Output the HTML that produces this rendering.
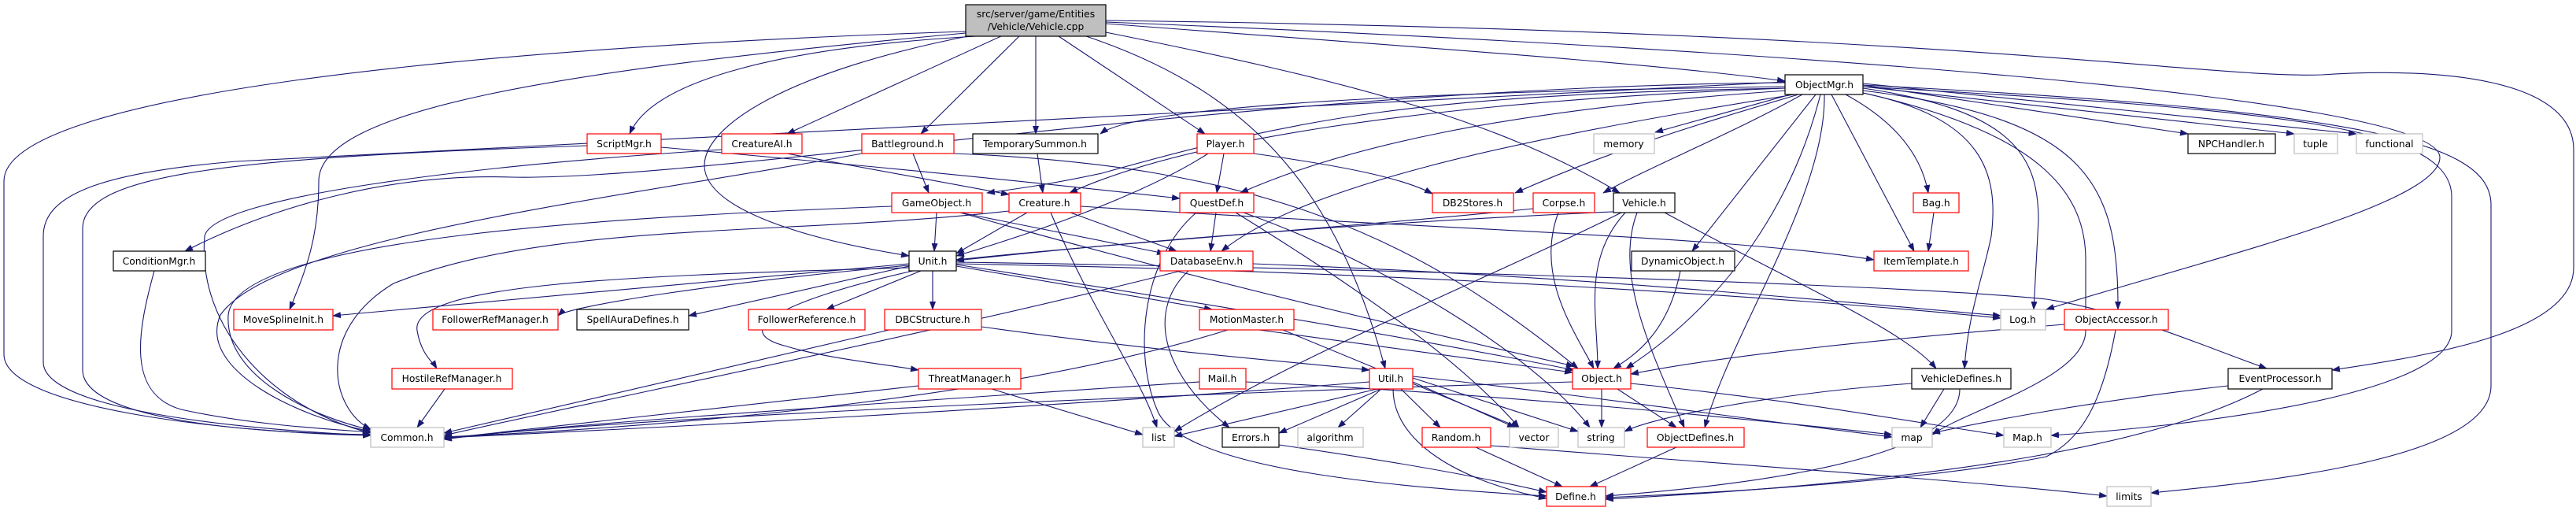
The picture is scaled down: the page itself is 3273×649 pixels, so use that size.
<!DOCTYPE html>
<html><head><meta charset="utf-8"><style>
html,body{margin:0;padding:0;background:#fff;}
svg{display:block}
text{font-family:"DejaVu Sans","Liberation Sans",sans-serif;font-size:12.3px;fill:#000;text-anchor:middle}
.e{fill:none;stroke:#191970;stroke-width:1.1;marker-end:url(#a)}
.r{fill:#fff;stroke:#ff0000;stroke-width:1.2}
.b{fill:#fff;stroke:#000;stroke-width:1.2}
.g{fill:#fff;stroke:#bfbfbf;stroke-width:1.2}
</style></head><body>
<svg width="3273" height="649" viewBox="0 0 3273 649" xmlns="http://www.w3.org/2000/svg">
<defs><marker id="a" markerWidth="11" markerHeight="8" refX="10" refY="4" orient="auto" markerUnits="userSpaceOnUse"><path d="M0,0 L11,4 L0,8 z" fill="#191970"/></marker></defs>
<g>
<!-- from Vehicle.cpp -->
<path class="e" d="M1227,40 C600,60 5,120 5,230 L5,450 C5,520 300,550 471,553"/>
<path class="e" d="M1227,42 C700,90 405,140 405,230 C405,300 390,340 368,393"/>
<path class="e" d="M1240,46 C1000,60 830,100 800,170"/>
<path class="e" d="M1272,46 L1000,170"/>
<path class="e" d="M1295,46 L1170,170"/>
<path class="e" d="M1316,46 L1316,170"/>
<path class="e" d="M1345,46 L1531,170"/>
<path class="e" d="M1240,44 C1000,90 895,160 895,210 C895,260 1000,300 1155,325"/>
<path class="e" d="M1380,46 C1600,120 1700,250 1760,468"/>
<path class="e" d="M1400,40 C1700,100 1900,150 2058,245"/>
<path class="e" d="M1405,30 C1800,60 2100,80 2268,103"/>
<path class="e" d="M1405,28 C2200,60 3100,120 3100,200 C3100,260 2800,330 2600,393"/>
<path class="e" d="M1405,26 C2500,40 2800,100 2950,95 C3100,85 3270,100 3270,190 L3270,340 C3270,420 3100,450 2963,470"/>
<!-- from ObjectMgr -->
<path class="e" d="M2268,110 C1900,115 1450,130 1398,170"/>
<path class="e" d="M2268,112 C1800,130 1500,180 1359,245"/>
<path class="e" d="M2268,112 C1800,120 1650,150 1400,220 C1330,235 1290,240 1254,245"/>
<path class="e" d="M2270,115 C1900,140 1700,190 1576,245"/>
<path class="e" d="M2280,120 C1900,180 1650,240 1552,319"/>
<path class="e" d="M2285,120 C2150,160 2050,190 1925,245"/>
<path class="e" d="M2275,120 L2103,168"/>
<path class="e" d="M2290,120 C2200,170 2100,210 2037,245"/>
<path class="e" d="M2307,120 L2150,319"/>
<path class="e" d="M2313,120 C2280,250 2200,380 2066,468"/>
<path class="e" d="M2318,120 C2320,250 2200,420 2166,543"/>
<path class="e" d="M2327,120 L2432,319"/>
<path class="e" d="M2345,120 C2400,150 2440,190 2450,245"/>
<path class="e" d="M2367,108 L2780,170"/>
<path class="e" d="M2367,110 L2915,170"/>
<path class="e" d="M2367,106 L2994,170"/>
<path class="e" d="M2367,112 C2560,140 2590,200 2590,280 L2584,393"/>
<path class="e" d="M2367,115 C2650,150 2692,230 2691,393"/>
<path class="e" d="M2367,118 C2520,150 2540,220 2530,300 C2520,350 2500,400 2496,468"/>
<path class="e" d="M2367,118 C2600,170 2650,250 2650,330 L2650,420 C2650,480 2500,520 2455,552"/>
<path class="e" d="M2367,110 C2900,140 3115,160 3115,250 L3115,420 C3115,500 2800,540 2606,553"/>
<path class="e" d="M2367,108 C3000,140 3165,180 3165,260 L3165,490 C3165,580 2900,610 2733,626"/>
<path class="e" d="M2268,105 C1600,110 900,230 650,225 C500,220 350,260 235,319"/>
<path class="e" d="M2268,104 C1600,140 500,190 300,205 C120,220 55,250 55,300 L55,460 C55,520 300,545 471,553"/>
<!-- others -->
<path class="e" d="M746,185 C300,200 105,220 105,290 L105,470 C105,530 300,550 471,552"/>
<path class="e" d="M840,187 C1100,210 1300,230 1499,252"/>
<path class="e" d="M1000,195 L1282,247"/>
<path class="e" d="M917,190 C600,210 270,250 260,300 C250,420 350,520 471,550"/>
<path class="e" d="M1160,195 L1180,245"/>
<path class="e" d="M1095,195 C800,250 350,300 280,400 C250,470 380,530 471,548"/>
<path class="e" d="M1212,195 C1600,210 1800,300 2005,468"/>
<path class="e" d="M1318,195 L1325,245"/>
<path class="e" d="M1555,195 L1546,245"/>
<path class="e" d="M1593,195 C1700,210 1780,225 1820,246"/>
<path class="e" d="M1535,195 C1450,250 1300,300 1215,325"/>
<path class="e" d="M1190,270 L1187,319"/>
<path class="e" d="M1220,270 L1480,322"/>
<path class="e" d="M1220,270 C1500,350 1800,420 2000,465"/>
<path class="e" d="M1133,262 C800,275 300,300 290,400 C285,480 400,530 471,546"/>
<path class="e" d="M1305,270 L1215,322"/>
<path class="e" d="M1360,270 L1495,319"/>
<path class="e" d="M1335,270 C1390,400 1450,480 1470,543"/>
<path class="e" d="M1373,262 C1800,290 2200,300 2381,330"/>
<path class="e" d="M1282,268 C1000,300 700,280 500,360 C400,420 420,520 471,545"/>
<path class="e" d="M1545,270 L1538,319"/>
<path class="e" d="M1520,270 C1450,330 1440,450 1470,520 C1500,600 1800,620 1965,630"/>
<path class="e" d="M1570,270 C1700,350 1850,450 1930,543"/>
<path class="e" d="M1580,270 C1750,330 1950,450 2020,543"/>
<path class="e" d="M1155,335 L423,401"/>
<path class="e" d="M1155,337 C900,360 720,390 709,401"/>
<path class="e" d="M1155,338 L875,401"/>
<path class="e" d="M1170,344 L1050,393"/>
<path class="e" d="M1185,344 L1185,393"/>
<path class="e" d="M1155,340 C800,350 520,360 530,420 C535,450 550,460 555,468"/>
<path class="e" d="M1160,344 C1000,380 920,420 1000,440 C1050,455 1120,462 1167,470"/>
<path class="e" d="M1215,338 L1540,393"/>
<path class="e" d="M1215,336 C1500,380 1800,430 2000,470"/>
<path class="e" d="M1215,333 C1700,340 2400,360 2600,380 C2700,395 2800,440 2880,468"/>
<path class="e" d="M1215,335 C1800,345 2300,380 2542,404"/>
<path class="e" d="M1500,344 C1200,420 800,500 564,553"/>
<path class="e" d="M1510,344 C1460,390 1470,470 1562,543"/>
<path class="e" d="M1592,335 C2000,350 2300,380 2542,401"/>
<path class="e" d="M1130,419 L564,550"/>
<path class="e" d="M1247,415 C1500,450 1650,460 1740,470"/>
<path class="e" d="M1600,419 L1998,473"/>
<path class="e" d="M1560,419 C1300,500 900,540 564,555"/>
<path class="e" d="M1630,419 L1930,543"/>
<path class="e" d="M1167,490 L564,557"/>
<path class="e" d="M1260,494 L1452,552"/>
<path class="e" d="M1524,485 C1000,520 700,540 564,558"/>
<path class="e" d="M1583,485 C1900,500 2200,530 2404,552"/>
<path class="e" d="M565,494 L530,543"/>
<path class="e" d="M196,344 C175,420 160,500 230,520 C320,540 420,545 471,549"/>
<path class="e" d="M1740,485 C1300,520 800,545 564,556"/>
<path class="e" d="M1750,494 L1492,554"/>
<path class="e" d="M1755,494 L1625,550"/>
<path class="e" d="M1755,494 L1700,543"/>
<path class="e" d="M1780,494 L1830,543"/>
<path class="e" d="M1795,485 L1925,543"/>
<path class="e" d="M1795,480 L2005,548"/>
<path class="e" d="M1770,494 C1770,560 1850,610 1965,633"/>
<path class="e" d="M1795,478 C2000,500 2200,530 2404,555"/>
<path class="e" d="M1998,485 C1500,500 800,530 564,557"/>
<path class="e" d="M2035,494 L2035,543"/>
<path class="e" d="M2055,494 L2130,543"/>
<path class="e" d="M2072,487 C2300,510 2450,540 2546,553"/>
<path class="e" d="M1875,568 L1985,618"/>
<path class="e" d="M1894,566 C2200,590 2500,610 2677,630"/>
<path class="e" d="M2130,568 L2020,618"/>
<path class="e" d="M1625,565 C1800,590 1900,610 1965,625"/>
<path class="e" d="M2070,268 C1800,280 1500,300 1215,331"/>
<path class="e" d="M2065,270 C2010,330 2030,400 2030,468"/>
<path class="e" d="M2080,270 C2050,350 2100,450 2140,543"/>
<path class="e" d="M2115,270 C2300,370 2420,420 2460,468"/>
<path class="e" d="M2060,270 C1900,350 1650,450 1492,548"/>
<path class="e" d="M1980,270 C1950,350 2000,420 2025,468"/>
<path class="e" d="M1948,265 C1700,290 1400,310 1215,330"/>
<path class="e" d="M2135,344 C2120,420 2080,450 2050,468"/>
<path class="e" d="M2457,270 L2450,319"/>
<path class="e" d="M2470,494 L2440,543"/>
<path class="e" d="M2490,494 C2490,570 2300,610 2040,630"/>
<path class="e" d="M2429,487 C2250,500 2100,530 2064,548"/>
<path class="e" d="M2623,412 C2400,430 2200,450 2072,475"/>
<path class="e" d="M2688,419 C2670,520 2640,560 2600,580 C2450,610 2200,625 2040,632"/>
<path class="e" d="M2831,490 C2650,510 2500,540 2455,550"/>
<path class="e" d="M2875,494 C2750,560 2500,610 2040,634"/>
</g>
<g>
<rect x="1227" y="6" width="178" height="40" fill="#bfbfbf" stroke="#000" stroke-width="1.2"/>
<text x="1316" y="22">src/server/game/Entities</text><text x="1316" y="38">/Vehicle/Vehicle.cpp</text>
<rect class="b" x="2268" y="95" width="99" height="25"/><text x="2318" y="112">ObjectMgr.h</text>
<rect class="r" x="746" y="170" width="94" height="25"/><text x="793" y="187">ScriptMgr.h</text>
<rect class="r" x="917" y="170" width="102" height="25"/><text x="968" y="187">CreatureAI.h</text>
<rect class="r" x="1095" y="170" width="117" height="25"/><text x="1153" y="187">Battleground.h</text>
<rect class="b" x="1236" y="170" width="159" height="25"/><text x="1315" y="187">TemporarySummon.h</text>
<rect class="r" x="1521" y="170" width="72" height="25"/><text x="1557" y="187">Player.h</text>
<rect class="g" x="2025" y="170" width="77" height="25"/><text x="2063" y="187">memory</text>
<rect class="b" x="2780" y="170" width="111" height="25"/><text x="2835" y="187">NPCHandler.h</text>
<rect class="g" x="2915" y="170" width="55" height="25"/><text x="2942" y="187">tuple</text>
<rect class="g" x="2994" y="170" width="84" height="25"/><text x="3036" y="187">functional</text>
<rect class="r" x="1133" y="245" width="115" height="25"/><text x="1190" y="262">GameObject.h</text>
<rect class="r" x="1282" y="245" width="91" height="25"/><text x="1327" y="262">Creature.h</text>
<rect class="r" x="1499" y="245" width="94" height="25"/><text x="1546" y="262">QuestDef.h</text>
<rect class="r" x="1820" y="245" width="103" height="25"/><text x="1871" y="262">DB2Stores.h</text>
<rect class="r" x="1948" y="245" width="78" height="25"/><text x="1987" y="262">Corpse.h</text>
<rect class="b" x="2050" y="245" width="78" height="25"/><text x="2089" y="262">Vehicle.h</text>
<rect class="r" x="2431" y="245" width="58" height="25"/><text x="2460" y="262">Bag.h</text>
<rect class="b" x="144" y="319" width="117" height="25"/><text x="202" y="336">ConditionMgr.h</text>
<rect class="b" x="1155" y="319" width="60" height="25"/><text x="1185" y="336">Unit.h</text>
<rect class="r" x="1474" y="319" width="118" height="25"/><text x="1533" y="336">DatabaseEnv.h</text>
<rect class="b" x="2073" y="319" width="131" height="25"/><text x="2138" y="336">DynamicObject.h</text>
<rect class="r" x="2381" y="319" width="120" height="25"/><text x="2441" y="336">ItemTemplate.h</text>
<rect class="r" x="297" y="393" width="126" height="26"/><text x="360" y="410">MoveSplineInit.h</text>
<rect class="r" x="550" y="393" width="159" height="26"/><text x="629" y="410">FollowerRefManager.h</text>
<rect class="b" x="733" y="393" width="142" height="26"/><text x="804" y="410">SpellAuraDefines.h</text>
<rect class="r" x="951" y="393" width="148" height="26"/><text x="1025" y="410">FollowerReference.h</text>
<rect class="r" x="1124" y="393" width="123" height="26"/><text x="1185" y="410">DBCStructure.h</text>
<rect class="r" x="1524" y="393" width="120" height="26"/><text x="1584" y="410">MotionMaster.h</text>
<rect class="g" x="2542" y="393" width="57" height="26"/><text x="2570" y="410">Log.h</text>
<rect class="r" x="2623" y="393" width="132" height="26"/><text x="2689" y="410">ObjectAccessor.h</text>
<rect class="r" x="498" y="468" width="153" height="26"/><text x="574" y="485">HostileRefManager.h</text>
<rect class="r" x="1167" y="468" width="130" height="26"/><text x="1232" y="485">ThreatManager.h</text>
<rect class="r" x="1524" y="468" width="59" height="26"/><text x="1553" y="485">Mail.h</text>
<rect class="r" x="1740" y="468" width="55" height="26"/><text x="1767" y="485">Util.h</text>
<rect class="r" x="1998" y="468" width="74" height="26"/><text x="2035" y="485">Object.h</text>
<rect class="b" x="2429" y="468" width="126" height="26"/><text x="2492" y="485">VehicleDefines.h</text>
<rect class="b" x="2831" y="468" width="132" height="26"/><text x="2897" y="485">EventProcessor.h</text>
<rect class="g" x="471" y="543" width="93" height="25"/><text x="517" y="560">Common.h</text>
<rect class="g" x="1452" y="543" width="40" height="25"/><text x="1472" y="560">list</text>
<rect class="b" x="1553" y="543" width="72" height="25"/><text x="1589" y="560">Errors.h</text>
<rect class="g" x="1649" y="543" width="83" height="25"/><text x="1690" y="560">algorithm</text>
<rect class="r" x="1807" y="543" width="87" height="25"/><text x="1850" y="560">Random.h</text>
<rect class="g" x="1918" y="543" width="62" height="25"/><text x="1949" y="560">vector</text>
<rect class="g" x="2005" y="543" width="59" height="25"/><text x="2034" y="560">string</text>
<rect class="r" x="2093" y="543" width="123" height="25"/><text x="2154" y="560">ObjectDefines.h</text>
<rect class="g" x="2404" y="543" width="51" height="25"/><text x="2429" y="560">map</text>
<rect class="g" x="2546" y="543" width="60" height="25"/><text x="2576" y="560">Map.h</text>
<rect class="r" x="1965" y="618" width="75" height="25"/><text x="2002" y="635">Define.h</text>
<rect class="g" x="2677" y="618" width="56" height="25"/><text x="2705" y="635">limits</text>
</g>
</svg>
</body></html>
